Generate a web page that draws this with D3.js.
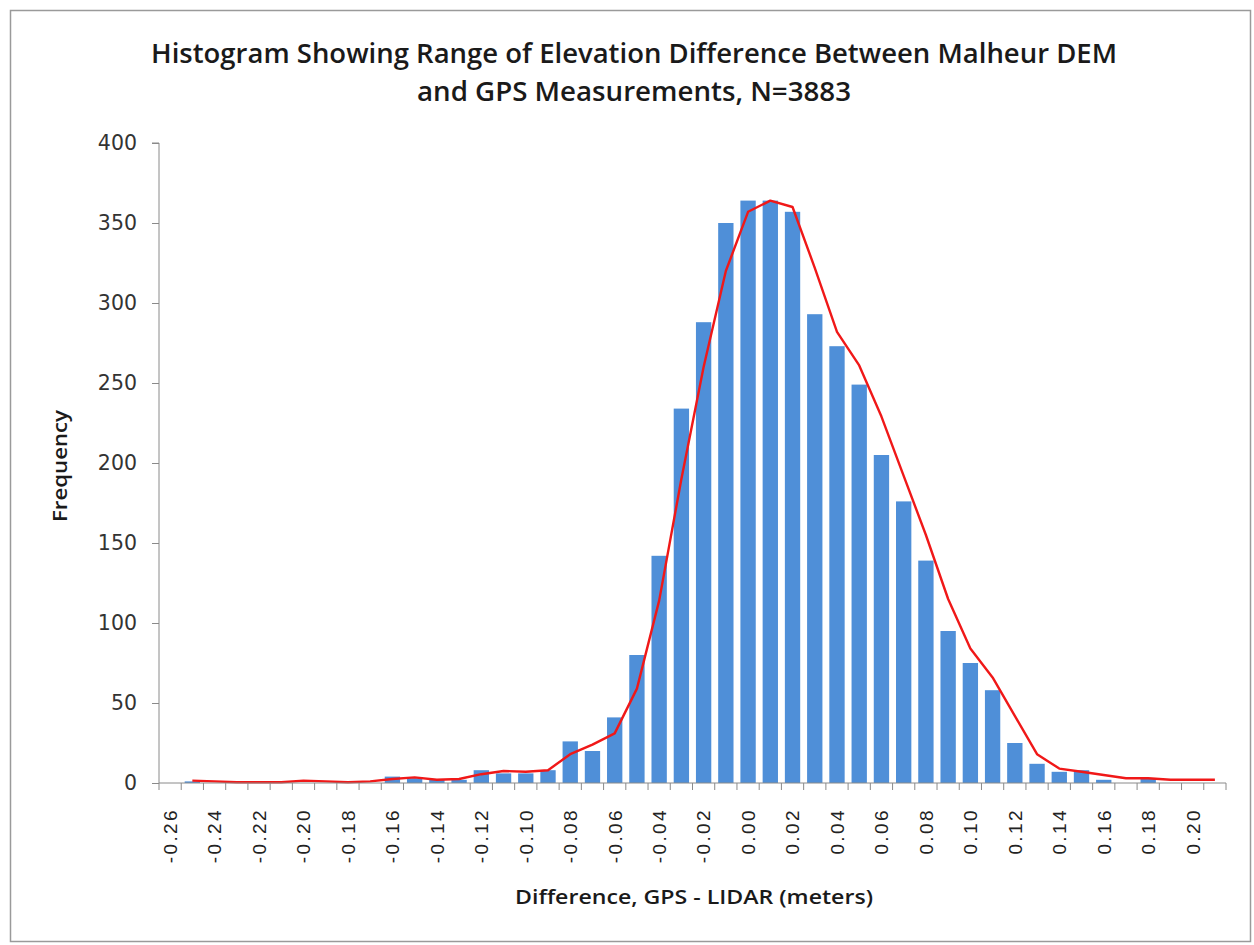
<!DOCTYPE html>
<html>
<head>
<meta charset="utf-8">
<script src="https://cdn.jsdelivr.net/npm/d3@7"></script>
<style>
  html, body { margin: 0; padding: 0; background: #fff; }
  svg { display: block; }
</style>
</head>
<body>
<svg id="chart" width="1254" height="945"></svg>
<script>
// ---- data ----
const categories = ["-0.26","-0.25","-0.24","-0.23","-0.22","-0.21","-0.20","-0.19","-0.18","-0.17",
  "-0.16","-0.15","-0.14","-0.13","-0.12","-0.11","-0.10","-0.09","-0.08","-0.07",
  "-0.06","-0.05","-0.04","-0.03","-0.02","-0.01","0.00","0.01","0.02","0.03",
  "0.04","0.05","0.06","0.07","0.08","0.09","0.10","0.11","0.12","0.13",
  "0.14","0.15","0.16","0.17","0.18","0.19","0.20","0.21"];
const frequency = [0,1,0,0,0,0,0,0,0,0,
  4,3,2,2,8,6,6,8,26,20,
  41,80,142,234,288,350,364,364,357,293,
  273,249,205,176,139,95,75,58,25,12,
  7,8,2,0,3,0,0,0];
const fitted = [null,1.5,1,0.5,0.5,0.5,1.5,1,0.5,1,
  2.5,3.5,2,2.5,5.5,7.5,7,8,18,24,
  31,59,114,190,260,320,357,364,360,322,
  282,261,229,192,155,115,84,66,42,18,
  9,7,5,3,3,2,2,2];
const yTicks = [0,50,100,150,200,250,300,350,400];
const xTickLabels = ["-0.26","-0.24","-0.22","-0.20","-0.18","-0.16","-0.14","-0.12","-0.10","-0.08",
  "-0.06","-0.04","-0.02","0.00","0.02","0.04","0.06","0.08","0.10","0.12","0.14","0.16","0.18","0.20"];
const titleLines = ["Histogram Showing Range of Elevation Difference Between Malheur DEM",
  "and GPS Measurements, N=3883"];
const xTitle = "Difference, GPS - LIDAR (meters)";
const yTitle = "Frequency";

// ---- layout ----
const svg = d3.select("#chart");
const plot = {left: 159, right: 1226, top: 143, bottom: 783};

svg.append("rect").attr("x", 10.5).attr("y", 10.5).attr("width", 1240).attr("height", 931)
  .attr("fill", "#fff").attr("stroke", "#9a9a9a").attr("stroke-width", 1.5);

const x = d3.scaleBand().domain(categories).range([plot.left, plot.right]).paddingInner(0.31).paddingOuter(0.155);
const xb = d3.scaleBand().domain(categories).range([plot.left, plot.right]);
const y = d3.scaleLinear().domain([0, 400]).range([plot.bottom, plot.top]);

// bars
svg.append("g").selectAll("rect").data(categories).join("rect")
  .attr("x", d => x(d))
  .attr("width", x.bandwidth())
  .attr("y", (d, i) => y(frequency[i]))
  .attr("height", (d, i) => y(0) - y(frequency[i]))
  .attr("fill", "#4f8fd8");

// line
const line = d3.line()
  .defined(d => d.v !== null)
  .x(d => xb(d.c) + xb.bandwidth() / 2)
  .y(d => y(d.v));
svg.append("path")
  .datum(categories.map((c, i) => ({c, v: fitted[i]})))
  .attr("d", line)
  .attr("fill", "none").attr("stroke", "#f01818").attr("stroke-width", 2.4)
  .attr("stroke-linejoin", "round");

// y axis
const yAxis = d3.axisLeft(y).tickValues(yTicks).tickSize(7).tickPadding(15);
const gy = svg.append("g").attr("transform", `translate(${plot.left},0)`).call(yAxis);
gy.select(".domain").attr("stroke", "#8a8a8a").attr("d", `M-7,${plot.top}H0V${plot.bottom}`);
gy.selectAll(".tick line").attr("stroke", "#8a8a8a");
gy.selectAll(".tick text").attr("font-family", "DejaVu Sans, sans-serif").attr("font-size", 20.5)
  .attr("fill", "#333");

// x axis
const xAxis = d3.axisBottom(xb).tickValues(xTickLabels).tickSize(0).tickPadding(0);
const gx = svg.append("g").attr("transform", `translate(0,${plot.bottom})`).call(xAxis);
gx.select(".domain").attr("stroke", "#8a8a8a").attr("d", `M${plot.left},0H${plot.right}`);
gx.selectAll(".tick text")
  .attr("font-family", "Liberation Sans, Arial, sans-serif")
  .attr("font-size", 19)
  .attr("letter-spacing", 2.4)
  .attr("fill", "#222")
  .attr("text-anchor", "end")
  .attr("dy", "0.36em")
  .attr("transform", "translate(0,25) rotate(-90)")
  .attr("x", 0).attr("y", 0);
// category boundary ticks
svg.append("g").selectAll("line").data(categories.concat(["__end"])).join("line")
  .attr("x1", (d, i) => i < categories.length ? xb(d) : plot.right)
  .attr("x2", (d, i) => i < categories.length ? xb(d) : plot.right)
  .attr("y1", plot.bottom).attr("y2", plot.bottom + 7)
  .attr("stroke", "#8a8a8a");

// titles
const tfont = "Open Sans, Lato, sans-serif";
svg.append("text").attr("x", 634).attr("y", 63).attr("text-anchor", "middle")
  .attr("font-family", tfont).attr("font-weight", 600).attr("font-size", 26.5).attr("fill", "#1a1a1a")
  .attr("textLength", 966).attr("lengthAdjust", "spacingAndGlyphs")
  .text(titleLines[0]);
svg.append("text").attr("x", 634).attr("y", 101).attr("text-anchor", "middle")
  .attr("font-family", tfont).attr("font-weight", 600).attr("font-size", 26.5).attr("fill", "#1a1a1a")
  .attr("textLength", 434).attr("lengthAdjust", "spacingAndGlyphs")
  .text(titleLines[1]);
svg.append("text").attr("x", 694).attr("y", 904).attr("text-anchor", "middle")
  .attr("font-family", tfont).attr("font-weight", 600).attr("font-size", 20).attr("fill", "#1a1a1a")
  .attr("textLength", 358).attr("lengthAdjust", "spacingAndGlyphs")
  .text(xTitle);
svg.append("text").attr("transform", "translate(67,466) rotate(-90)").attr("text-anchor", "middle")
  .attr("font-family", tfont).attr("font-weight", 600).attr("font-size", 20).attr("fill", "#1a1a1a")
  .attr("textLength", 112).attr("lengthAdjust", "spacingAndGlyphs")
  .text(yTitle);
</script>
</body>
</html>
